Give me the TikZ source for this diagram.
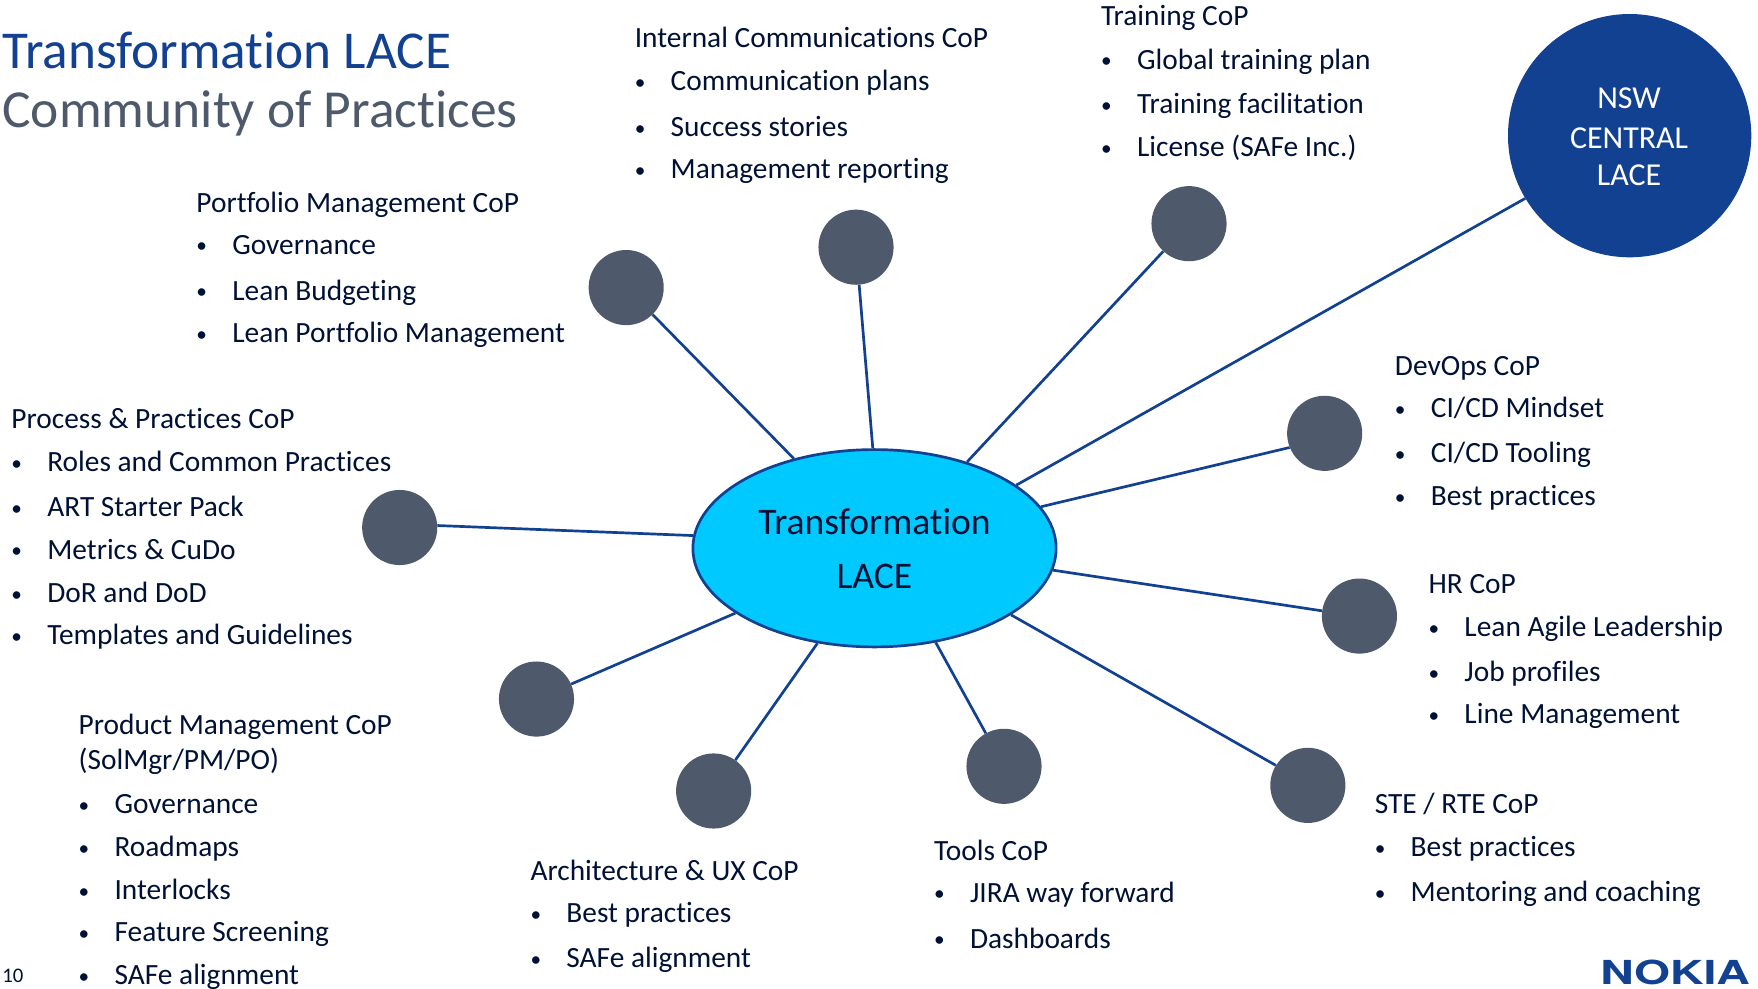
\documentclass[tikz,border=0pt]{standalone}
\usepackage{fontspec}
\setmainfont[Ligatures=NoCommon]{Carlito}
\newfontfamily\logofont{TeX Gyre Heros}
\usetikzlibrary{shapes.geometric}
\definecolor{lblue}{HTML}{124191}
\definecolor{lgrey}{HTML}{4E5A6B}
\definecolor{ltext}{HTML}{001135}
\definecolor{lcyan}{HTML}{00C9FF}
\newcommand{\copitems}[3]{%
\foreach \y/\t [count=\i] in {#3}{
\node[cop,font=\fontsize{19}{20}\selectfont] (#1b\i) at (#2,\y-1) {•};
\node[cop] (#1t\i) at (#2+32,\y) {\t};}}
\begin{document}
\begin{tikzpicture}[x=1pt,y=-1pt,
cop/.style={anchor=base west,inner sep=0pt,yshift=-0.6pt,text=ltext,font=\fontsize{26.2}{30}\selectfont},
dot/.style={circle,fill=lgrey,minimum size=67pt,inner sep=0pt},
link/.style={draw=lblue,line width=2.4pt}]
\useasboundingbox (0,0) rectangle (1568,882);
\node[ellipse,draw=lblue,line width=2.4pt,fill=lcyan,minimum width=324pt,minimum height=176pt,inner sep=0pt] (lace) at (780,489) {};
\node[cop,anchor=base,font=\fontsize{33.5}{36}\selectfont] (laceA) at (780,476) {Transformation};
\node[cop,anchor=base,font=\fontsize{33.5}{36}\selectfont] (laceB) at (780,524) {LACE};
\node[circle,fill=lblue,minimum size=217pt,inner sep=0pt] (nsw) at (1453.5,121) {};
\node[cop,anchor=base,text=white,font=\fontsize{28.5}{30}\selectfont] (nswA) at (1453,96) {NSW};
\node[cop,anchor=base,text=white,font=\fontsize{28.5}{30}\selectfont] (nswB) at (1453,132) {CENTRAL};
\node[cop,anchor=base,text=white,font=\fontsize{28.5}{30}\selectfont] (nswC) at (1453,165) {LACE};
\node[dot] (pm) at (558.5,256.5) {};
\node[dot] (ic) at (763.5,220.5) {};
\node[dot] (tr) at (1060.5,199.5) {};
\node[dot] (dv) at (1181.5,386.5) {};
\node[dot] (hr) at (1212.5,549.5) {};
\node[dot] (st) at (1166.5,700.5) {};
\node[dot] (tl) at (895.5,683.5) {};
\node[dot] (ar) at (636.5,705.5) {};
\node[dot] (pd) at (478.5,623.5) {};
\node[dot] (pp) at (356.5,470.5) {};
\draw[link] (pm)--(lace.132);
\draw[link] (ic)--(lace.91);
\draw[link] (tr)--(lace.43.6);
\draw[link] (nsw.-149)--(lace.24);
\draw[link] (dv.-158)--(lace.14.8);
\draw[link] (hr.172)--(lace.-7.5);
\draw[link] (st.148)--(lace.-26.8);
\draw[link] (tl)--(lace.-57.5);
\draw[link] (ar)--(lace.-121.3);
\draw[link] (pd)--(lace.-155.9);
\draw[link] (pp.3)--(lace.176.1);
\node[cop,text=lblue,font=\fontsize{47.5}{50}\selectfont] (titleA) at (2,60.5) {Transformation LACE};
\node[cop,text=lgrey,font=\fontsize{47.7}{50}\selectfont] (titleB) at (2,113) {Community of Practices};
\node[cop] (ich) at (566,42) {Internal Communications CoP};
\copitems{ic}{566}{80/Communication plans,121/Success stories,159/Management reporting}
\node[cop] (trh) at (982,22.5) {Training CoP};
\copitems{tr}{982}{61/Global training plan,101/Training facilitation,139/License (SAFe Inc.)}
\node[cop] (pmh) at (175,189) {Portfolio Management CoP};
\copitems{pm}{175}{226/Governance,267/Lean Budgeting,305/Lean Portfolio Management}
\node[cop] (dvh) at (1244,334) {DevOps CoP};
\copitems{dv}{1244}{372/{CI/CD Mindset},412/{CI/CD Tooling},450/Best practices}
\node[cop] (pph) at (10,381.7) {Process \& Practices CoP};
\copitems{pp}{10}{420/Roles and Common Practices,460/ART Starter Pack,498/Metrics \& CuDo,536.7/DoR and DoD,574.4/Templates and Guidelines}
\node[cop] (hrh) at (1274,529) {HR CoP};
\copitems{hr}{1274}{567/Lean Agile Leadership,607/Job profiles,645/Line Management}
\node[cop] (sth) at (1226,725) {STE / RTE CoP};
\copitems{st}{1226}{763/Best practices,803.7/Mentoring and coaching}
\node[cop] (tlh) at (833,767) {Tools CoP};
\copitems{tl}{833}{804/JIRA way forward,845/Dashboards}
\node[cop] (arh) at (473,784.5) {Architecture \& UX CoP};
\copitems{ar}{473}{822/Best practices,862/SAFe alignment}
\node[cop] (pdh) at (70,654.4) {Product Management CoP};
\node[cop] (pdi) at (70,685.4) {(SolMgr/PM/PO)};
\copitems{pd}{70}{725/Governance,763/Roadmaps,801.7/Interlocks,839/Feature Screening,877.7/SAFe alignment}
\node[cop,font=\fontsize{18.5}{20}\selectfont] (page) at (2,876) {10};
\node[anchor=base west,inner sep=0pt,text=lblue,xscale=1.4,font=\logofont\bfseries\fontsize{29.5}{30}\selectfont] (logo) at (1427,878) {NOKIA};
\end{tikzpicture}
\end{document}
